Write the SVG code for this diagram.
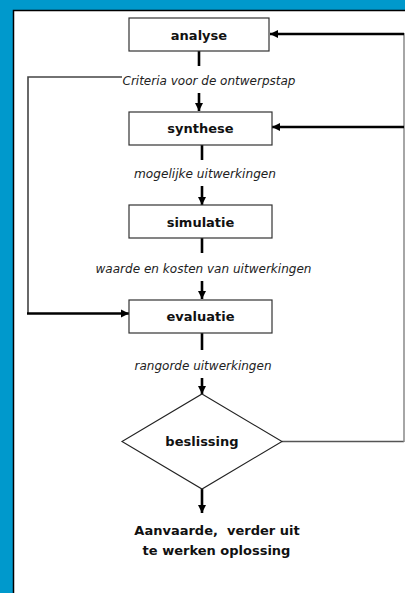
<svg xmlns="http://www.w3.org/2000/svg" width="405" height="593" viewBox="0 0 405 593">
<style>
.box{fill:#fff;stroke:#333;stroke-width:1.2}
.t{font-family:"DejaVu Sans",Verdana,sans-serif;font-weight:bold;font-size:13px;fill:#111;text-anchor:middle}
.lab{font-family:"DejaVu Sans",Verdana,sans-serif;font-style:italic;font-size:12px;fill:#222;text-anchor:middle}
.c{stroke:#000;stroke-width:2.6;fill:none}
.thin{stroke:#555;stroke-width:1.4;fill:none}
</style>
<defs>
<marker id="ah" viewBox="0 0 10 10" refX="10" refY="5" markerWidth="3.2" markerHeight="3.2" orient="auto" markerUnits="strokeWidth">
<path d="M0,0 L10,5 L0,10 z" fill="#000"/>
</marker>
</defs>
<rect x="0" y="0" width="405" height="593" fill="#0099cc"/>
<rect x="13.5" y="10.5" width="400" height="590" fill="#fff" stroke="#000" stroke-width="1.5"/>
<g id="connectors">
<line class="c" x1="199" y1="51" x2="199" y2="66"/>
<line class="c" x1="199" y1="93" x2="199" y2="111" marker-end="url(#ah)"/>
<line class="c" x1="202" y1="145" x2="202" y2="160"/>
<line class="c" x1="202" y1="186" x2="202" y2="205" marker-end="url(#ah)"/>
<line class="c" x1="202" y1="238" x2="202" y2="253"/>
<line class="c" x1="202" y1="281" x2="202" y2="299" marker-end="url(#ah)"/>
<line class="c" x1="202" y1="333" x2="202" y2="350"/>
<line class="c" x1="202" y1="378" x2="202" y2="394" marker-end="url(#ah)"/>
<line class="c" x1="202" y1="489" x2="202" y2="513" marker-end="url(#ah)"/>
<polyline fill="none" stroke="#444" stroke-width="1.6" points="122,77 28,77 28,313.5"/>
<polyline class="c" points="27,313.5 129,313.5" marker-end="url(#ah)"/>
<line class="thin" x1="282" y1="441.5" x2="404" y2="441.5"/>
<line stroke="#888" stroke-width="1.5" x1="404" y1="33" x2="404" y2="442"/>
<line class="c" x1="404" y1="34" x2="270" y2="34" marker-end="url(#ah)"/>
<line class="c" x1="404" y1="127" x2="272" y2="127" marker-end="url(#ah)"/>
</g>
<g id="analyse">
<rect class="box" x="129" y="18" width="140" height="33"/>
<text class="t" x="199" y="39.5">analyse</text>
</g>
<g id="label-criteria">
<text class="lab" x="209" y="84.5" textLength="173" lengthAdjust="spacingAndGlyphs">Criteria voor de ontwerpstap</text>
</g>
<g id="synthese">
<rect class="box" x="129" y="112" width="143" height="33"/>
<text class="t" x="200.5" y="133">synthese</text>
</g>
<g id="label-mogelijke">
<text class="lab" x="205" y="177.5" textLength="142" lengthAdjust="spacingAndGlyphs">mogelijke uitwerkingen</text>
</g>
<g id="simulatie">
<rect class="box" x="129" y="205" width="143" height="33"/>
<text class="t" x="200.5" y="227">simulatie</text>
</g>
<g id="label-waarde">
<text class="lab" x="203.5" y="272.5" textLength="216" lengthAdjust="spacingAndGlyphs">waarde en kosten van uitwerkingen</text>
</g>
<g id="evaluatie">
<rect class="box" x="129" y="300" width="143" height="33"/>
<text class="t" x="200.5" y="321">evaluatie</text>
</g>
<g id="label-rangorde">
<text class="lab" x="203" y="369.5" textLength="137" lengthAdjust="spacingAndGlyphs">rangorde uitwerkingen</text>
</g>
<g id="beslissing">
<polygon points="202,394 282,441.5 202,489 122,441.5" fill="#fff" stroke="#222" stroke-width="1.1"/>
<text class="t" x="202" y="446">beslissing</text>
</g>
<g id="result">
<text class="t" x="217" y="535" xml:space="preserve">Aanvaarde,  verder uit</text>
<text class="t" x="216.5" y="555">te werken oplossing</text>
</g>
</svg>
